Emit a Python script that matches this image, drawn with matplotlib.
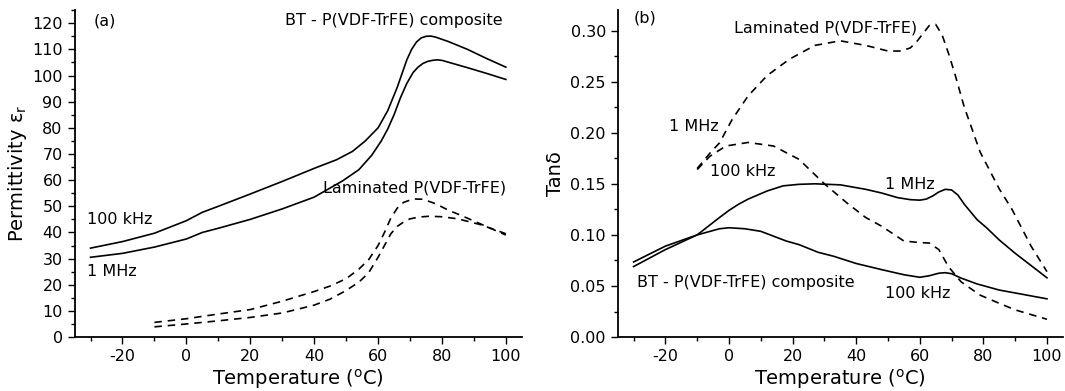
import matplotlib
matplotlib.use('Agg')
import matplotlib.pyplot as plt
from matplotlib.ticker import MultipleLocator, FormatStrFormatter

plt.rcParams['font.family'] = 'DejaVu Sans'
plt.rcParams['axes.unicode_minus'] = False

# (a) permittivity, BT - P(VDF-TrFE) composite
t_comp_100k = [-30, -20, -10, 0, 5, 10, 20, 30, 40, 47, 52, 56, 60, 63, 66, 69, 70.5, 72, 73.5, 75, 76.5, 78, 82, 88, 94, 100]
eps_comp_100k = [34, 36.5, 39.7, 44.5, 47.7, 50, 54.7, 59.5, 64.5, 67.8, 71, 75, 80, 86.5, 95.5, 106, 110, 112.8, 114.4, 115, 115.1, 114.7, 113, 110, 106.5, 103.2]
t_comp_1M = [-30, -20, -10, 0, 5, 10, 20, 30, 40, 49, 54, 58, 61, 63, 65, 67, 69, 71, 72.5, 74, 75.5, 77, 78.5, 80, 88, 94, 100]
eps_comp_1M = [30.5, 32, 34.4, 37.5, 40, 41.6, 45, 49, 53.5, 59.8, 64, 69.5, 75, 79.5, 85, 91.5, 97, 101.2, 103.2, 104.6, 105.4, 105.8, 106, 105.8, 103, 100.8, 98.5]

# (a) permittivity, laminated P(VDF-TrFE)
t_lam_100k = [-10, 0, 10, 20, 30, 40, 45, 50, 54, 57, 60, 62, 64, 66, 68, 71, 74, 78, 82, 86, 92, 100]
eps_lam_100k = [5.6, 7, 8.8, 10.5, 13.7, 17.4, 19.5, 22.3, 26, 29.5, 35, 40, 45.5, 49.3, 51.5, 52.8, 52.7, 51, 48.5, 46.5, 43.3, 39]
t_lam_1M = [-10, 0, 10, 20, 30, 40, 45, 50, 54, 57, 60, 62, 64, 66, 68, 70, 73, 76, 80, 85, 92, 100]
eps_lam_1M = [3.9, 5, 6.2, 7.5, 9.2, 12.2, 14.5, 17.8, 21, 24.5, 30.5, 35, 39.5, 42.3, 44, 45.2, 45.9, 46.2, 46, 45.2, 43, 39.5]

# (b) tan delta, laminated
t_tlam_1M = [-10, -6, -3, 1, 6, 12, 19, 27, 35, 43, 50, 54, 57, 59, 61, 63, 65, 67, 69, 71, 74, 79, 85, 89, 95, 100]
tan_lam_1M = [0.165, 0.180, 0.190, 0.213, 0.236, 0.256, 0.272, 0.2855, 0.290, 0.2855, 0.280, 0.280, 0.283, 0.289, 0.297, 0.305, 0.306, 0.296, 0.278, 0.258, 0.225, 0.181, 0.145, 0.125, 0.089, 0.064]
t_tlam_100k = [-10, -6, -1, 6, 14, 22, 30, 37, 43, 48, 55, 60, 63, 66, 69, 73, 79, 85, 90, 100]
tan_lam_100k = [0.164, 0.177, 0.187, 0.1905, 0.187, 0.174, 0.150, 0.1315, 0.117, 0.1085, 0.094, 0.0925, 0.092, 0.0856, 0.069, 0.054, 0.041, 0.033, 0.0266, 0.0174]

# (b) tan delta, composite
t_tcomp_1M = [-30, -20, -10, -3, 0, 3, 6, 9, 12, 17, 22, 27, 35, 43, 48, 53, 57, 60, 62, 64, 66, 68, 70, 72, 74, 78, 81, 85, 90, 95, 100]
tan_comp_1M = [0.069, 0.0856, 0.100, 0.117, 0.124, 0.130, 0.135, 0.139, 0.143, 0.148, 0.1495, 0.150, 0.149, 0.1446, 0.141, 0.1365, 0.1345, 0.134, 0.135, 0.138, 0.142, 0.1446, 0.144, 0.139, 0.130, 0.115, 0.107, 0.095, 0.082, 0.070, 0.058]
t_tcomp_100k = [-30, -20, -10, -3, 0, 5, 10, 18, 22, 28, 33, 40, 48, 55, 60, 63, 66, 68, 70, 73, 78, 85, 92, 100]
tan_comp_100k = [0.0735, 0.089, 0.100, 0.106, 0.107, 0.106, 0.1035, 0.094, 0.0905, 0.083, 0.079, 0.072, 0.066, 0.061, 0.0585, 0.060, 0.0625, 0.063, 0.062, 0.0577, 0.052, 0.046, 0.042, 0.0374]

fig = plt.figure(figsize=(10.65, 3.91), dpi=100)
ax1 = fig.add_axes([0.070, 0.138, 0.420, 0.836])
ax2 = fig.add_axes([0.580, 0.138, 0.418, 0.836])

lw = 1.2
dash = (0, (4.5, 3.5))

ax1.plot(t_comp_100k, eps_comp_100k, color='k', lw=lw)
ax1.plot(t_comp_1M, eps_comp_1M, color='k', lw=lw)
ax1.plot(t_lam_100k, eps_lam_100k, color='k', lw=lw, linestyle=dash)
ax1.plot(t_lam_1M, eps_lam_1M, color='k', lw=lw, linestyle=dash)

ax2.plot(t_tlam_1M, tan_lam_1M, color='k', lw=lw, linestyle=dash)
ax2.plot(t_tlam_100k, tan_lam_100k, color='k', lw=lw, linestyle=dash)
ax2.plot(t_tcomp_1M, tan_comp_1M, color='k', lw=lw)
ax2.plot(t_tcomp_100k, tan_comp_100k, color='k', lw=lw)

for ax in (ax1, ax2):
    ax.spines['top'].set_visible(False)
    ax.spines['right'].set_visible(False)
    ax.spines['left'].set_linewidth(1.3)
    ax.spines['bottom'].set_linewidth(1.3)
    ax.set_xlim(-35, 105)
    ax.xaxis.set_major_locator(MultipleLocator(20))
    ax.xaxis.set_minor_locator(MultipleLocator(10))
    ax.tick_params(which='major', direction='out', length=5, width=1, labelsize=11.5)
    ax.tick_params(which='minor', direction='out', length=3, width=1)
    ax.set_xlabel('Temperature ($^{\\mathrm{o}}$C)', fontsize=14, labelpad=2)

ax1.set_ylim(0, 125)
ax1.yaxis.set_major_locator(MultipleLocator(10))
ax1.yaxis.set_minor_locator(MultipleLocator(5))
ax1.set_ylabel('Permittivity $\\mathrm{\\varepsilon_r}$', fontsize=14, labelpad=2)

ax2.set_ylim(0, 0.32)
ax2.yaxis.set_major_locator(MultipleLocator(0.05))
ax2.yaxis.set_minor_locator(MultipleLocator(0.025))
ax2.yaxis.set_major_formatter(FormatStrFormatter('%.2f'))
ax2.set_ylabel('Tan\u03b4', fontsize=14, labelpad=4)

fs = 11.5
ax1.text(-29, 121, '(a)', fontsize=fs, va='center')
ax1.text(99, 121, 'BT - P(VDF-TrFE) composite', fontsize=fs, ha='right', va='center')
ax1.text(-31, 45, '100 kHz', fontsize=fs, va='center')
ax1.text(-31, 25, '1 MHz', fontsize=fs, va='center')
ax1.text(100, 57, 'Laminated P(VDF-TrFE)', fontsize=fs, ha='right', va='center')

ax2.text(-30, 0.312, '(b)', fontsize=fs, va='center')
ax2.text(1.5, 0.303, 'Laminated P(VDF-TrFE)', fontsize=fs, va='center')
ax2.text(-19, 0.206, '1 MHz', fontsize=fs, va='center')
ax2.text(-6, 0.162, '100 kHz', fontsize=fs, va='center')
ax2.text(49, 0.149, '1 MHz', fontsize=fs, va='center')
ax2.text(-29, 0.053, 'BT - P(VDF-TrFE) composite', fontsize=fs, va='center')
ax2.text(49, 0.043, '100 kHz', fontsize=fs, va='center')

fig.savefig('out.png', dpi=100)
